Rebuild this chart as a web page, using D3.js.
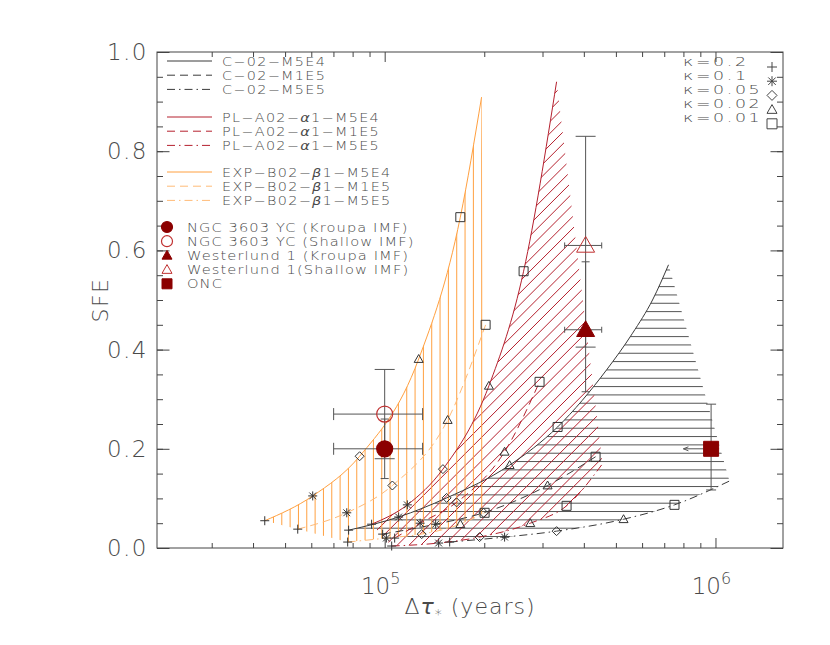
<!DOCTYPE html>
<html>
<head>
<meta charset="utf-8">
<script src="https://cdn.jsdelivr.net/npm/d3@7"></script>
<style>
  body { margin: 0; background: #fff; }
  svg text { font-family: 'DejaVu Sans', sans-serif; font-weight: 200; fill: #4a4a4a; }
</style>
</head>
<body>
<svg width="830" height="645"></svg>
<script>
// marker codes: p = + (kappa 0.2), x = asterisk (0.1), d = diamond (0.05), t = triangle (0.02), s = square (0.01)
var kappaLabels = ['κ=0.2', 'κ=0.1', 'κ=0.05', 'κ=0.02', 'κ=0.01']
var kappaMarks = ['p', 'x', 'd', 't', 's']

// C-02 models (black)
var cM5E4Tau = [77800, 110200, 153900, 238600, 333200, 468500, 561400, 645200, 721100]
var cM5E4Sfe = [0.036, 0.0625, 0.101, 0.167, 0.244, 0.359, 0.433, 0.5, 0.571]
var cM5E4Mark = ['p', 'x', 'd', 't', 's', '', '', '', '']
var cM1E5Tau = [98600, 142600, 199100, 310800, 434100]
var cM1E5Sfe = [0.028, 0.048, 0.071, 0.126, 0.184]
var cM5E5Tau = [157200, 230400, 330900, 527400, 751800, 1102000]
var cM5E5Sfe = [0.012, 0.022, 0.034, 0.058, 0.087, 0.135]

// PL-A02-alpha1 models (red)
var plM5E4Tau = [91300, 117100, 150000, 206600, 263000, 330900]
var plM5E4Sfe = [0.048, 0.087, 0.159, 0.327, 0.558, 0.94]
var plM1E5Tau = [107200, 128000, 165000, 230400, 293900]
var plM1E5Sfe = [0.02, 0.05, 0.092, 0.194, 0.335]
var plM5E5Tau = [105000, 145600, 193600, 275500, 354700, 455700]
var plM5E5Sfe = [0.004, 0.010, 0.022, 0.050, 0.085, 0.17]

// EXP-B02-beta1 models (orange)
var expM5E4Tau = [43400, 60600, 84000, 126700, 169300, 196300]
var expM5E4Sfe = [0.055, 0.105, 0.185, 0.381, 0.667, 0.909]
var expM1E5Tau = [54600, 76800, 105500, 155000, 201900]
var expM1E5Sfe = [0.038, 0.071, 0.126, 0.258, 0.45]
var expM5E5Tau = [77300, 101200, 129400, 169300, 200500]
var expM5E5Sfe = [0.012, 0.020, 0.028, 0.048, 0.071]

var stdMark = ['p', 'x', 'd', 't', 's', '']

// observed clusters
var obsNames = ['NGC 3603 YC (Kroupa IMF)', 'NGC 3603 YC (Shallow IMF)', 'Westerlund 1 (Kroupa IMF)', 'Westerlund 1(Shallow IMF)', 'ONC']
var obsSym = ['o', 'o', 't', 't', 's']
var obsFilled = [true, false, true, false, true]
var obsTau = [1e5, 1e5, 4.05e5, 4.05e5, 9.7e5]
var obsTauLo = [70100, 70100, 350000, 350000, 800000]
var obsTauHi = [130200, 130200, 453000, 453000, 970000]
var obsSfe = [0.2, 0.27, 0.44, 0.61, 0.2]
var obsSfeLo = [0.14, 0.18, 0.315, 0.405, 0.117]
var obsSfeHi = [0.26, 0.36, 0.577, 0.83, 0.29]

var yMajor = [0, 0.2, 0.4, 0.6, 0.8, 1.0]
var yMinor = d3.range(0, 1.0001, 0.05)
var xMajor = [1e5, 1e6]

var black = '#3a3a3a'
var red = '#b5202e'
var orange = '#ffa040'
var orangeLight = '#ffbb78'
var darkRed = '#8b0000'
var axisColor = '#444'

var svg = d3.select('svg')
var x = d3.scaleLog().domain([2.05e4, 1.6e6]).range([157, 783])
var y = d3.scaleLinear().domain([0, 1]).range([548, 52])

function pts (tau, sfe) {
  return tau.map(function (t, i) { return [x(t), y(sfe[i])] })
}

var line = d3.line().curve(d3.curveMonotoneX)

function regionPath (top, bottom) {
  return line(top) + line(bottom.slice().reverse()).replace(/^M/, 'L') + 'Z'
}

var clipCount = 0
function hatch (node, d, kind, color) {
  var id = 'hclip' + (clipCount++)
  svg.append('clipPath').attr('id', id).append('path').attr('d', d)
  var step = 8.33
  var p = ''
  var k
  if (kind === 'v') {
    for (k = 0; k < 100; k++) p += 'M' + (6.9 + k * step) + ',0V645'
  } else if (kind === 'h') {
    for (k = 0; k < 80; k++) p += 'M0,' + (3.4 + k * step) + 'H830'
  } else {
    var s = step * Math.SQRT2
    for (k = 0; k < 130; k++) {
      var c = k * s
      p += 'M0,' + c + 'L' + c + ',0'
    }
  }
  node.append('path')
    .attr('d', p)
    .attr('clip-path', 'url(#' + id + ')')
    .attr('fill', 'none')
    .attr('stroke', color)
    .attr('stroke-width', 1)
}

function marker (node, type, cx, cy, r, stroke, fill) {
  var d
  if (type === 'p') {
    d = 'M' + (cx - r) + ',' + cy + 'H' + (cx + r) + 'M' + cx + ',' + (cy - r) + 'V' + (cy + r)
  } else if (type === 'x') {
    var a = r * 0.75
    d = 'M' + (cx - r) + ',' + cy + 'H' + (cx + r) + 'M' + cx + ',' + (cy - r) + 'V' + (cy + r) +
      'M' + (cx - a) + ',' + (cy - a) + 'L' + (cx + a) + ',' + (cy + a) +
      'M' + (cx - a) + ',' + (cy + a) + 'L' + (cx + a) + ',' + (cy - a)
  } else if (type === 'd') {
    d = 'M' + cx + ',' + (cy - r) + 'L' + (cx + r) + ',' + cy + 'L' + cx + ',' + (cy + r) + 'L' + (cx - r) + ',' + cy + 'Z'
  } else if (type === 't') {
    d = 'M' + cx + ',' + (cy - r) + 'L' + (cx + r) + ',' + (cy + r * 0.75) + 'L' + (cx - r) + ',' + (cy + r * 0.75) + 'Z'
  } else if (type === 's') {
    d = 'M' + (cx - r) + ',' + (cy - r) + 'H' + (cx + r) + 'V' + (cy + r) + 'H' + (cx - r) + 'Z'
  }
  if (type === 'o') {
    return node.append('circle').attr('cx', cx).attr('cy', cy).attr('r', r)
      .attr('fill', fill || 'none').attr('stroke', stroke).attr('stroke-width', 1.2)
  }
  return node.append('path').attr('d', d)
    .attr('fill', fill || 'none').attr('stroke', stroke).attr('stroke-width', 1)
}

var dash = '8,5'
var dashDot = '8,4,1.5,4'

var models = [
  { tau: cM5E4Tau, sfe: cM5E4Sfe, mark: cM5E4Mark, color: black, dash: null },
  { tau: cM1E5Tau, sfe: cM1E5Sfe, mark: stdMark, color: black, dash: dash },
  { tau: cM5E5Tau, sfe: cM5E5Sfe, mark: stdMark, color: black, dash: dashDot },
  { tau: plM5E4Tau, sfe: plM5E4Sfe, mark: stdMark, color: red, dash: null },
  { tau: plM1E5Tau, sfe: plM1E5Sfe, mark: stdMark, color: red, dash: dash },
  { tau: plM5E5Tau, sfe: plM5E5Sfe, mark: stdMark, color: red, dash: dashDot },
  { tau: expM5E4Tau, sfe: expM5E4Sfe, mark: stdMark, color: orange, dash: null },
  { tau: expM1E5Tau, sfe: expM1E5Sfe, mark: stdMark, color: orangeLight, dash: dash },
  { tau: expM5E5Tau, sfe: expM5E5Sfe, mark: stdMark, color: orangeLight, dash: dashDot }
]

// hatched regions between the M5E4 and M5E5 runs
var hatchG = svg.append('g')
hatch(hatchG, regionPath(pts(cM5E4Tau, cM5E4Sfe), pts(cM5E5Tau, cM5E5Sfe)), 'h', '#555')
hatch(hatchG, regionPath(pts(plM5E4Tau, plM5E4Sfe), pts(plM5E5Tau, plM5E5Sfe)), 'd', red)
hatch(hatchG, regionPath(pts(expM5E4Tau, expM5E4Sfe), pts(expM5E5Tau, expM5E5Sfe)), 'v', orange)

var curveG = svg.append('g')
models.forEach(function (m) {
  curveG.append('path')
    .attr('d', line(pts(m.tau, m.sfe)))
    .attr('fill', 'none')
    .attr('stroke', m.color)
    .attr('stroke-width', 1)
    .attr('stroke-dasharray', m.dash)
})

var markG = svg.append('g')
models.forEach(function (m) {
  pts(m.tau, m.sfe).forEach(function (p, i) {
    if (m.mark[i]) marker(markG, m.mark[i], p[0], p[1], 4.5, '#333')
  })
})

// observations with error bars
var obsG = svg.append('g')
var errColor = '#555'
function hbar (x0, x1, yy, cap) {
  obsG.append('path')
    .attr('d', 'M' + x0 + ',' + yy + 'H' + x1 + 'M' + x0 + ',' + (yy - cap) + 'V' + (yy + cap) + 'M' + x1 + ',' + (yy - cap) + 'V' + (yy + cap))
    .attr('stroke', errColor).attr('fill', 'none')
}
function vbar (xx, y0, y1, cap) {
  obsG.append('path')
    .attr('d', 'M' + xx + ',' + y0 + 'V' + y1 + 'M' + (xx - cap) + ',' + y0 + 'H' + (xx + cap) + 'M' + (xx - cap) + ',' + y1 + 'H' + (xx + cap))
    .attr('stroke', errColor).attr('fill', 'none')
}
var capV = [4, 10, 4, 10, 5]
var capH = [6, 6, 3, 3, 0]
obsNames.forEach(function (n, i) {
  var cx = x(obsTau[i])
  vbar(cx, y(obsSfeHi[i]), y(obsSfeLo[i]), capV[i])
  if (i < 4) {
    hbar(x(obsTauLo[i]), x(obsTauHi[i]), y(obsSfe[i]), capH[i])
  } else {
    var ax = x(obsTauLo[i])
    obsG.append('path')
      .attr('d', 'M' + ax + ',' + y(obsSfe[i]) + 'H' + (cx + 8) + 'M' + (ax + 5) + ',' + (y(obsSfe[i]) - 2) + 'L' + ax + ',' + y(obsSfe[i]) + 'L' + (ax + 5) + ',' + (y(obsSfe[i]) + 2))
      .attr('stroke', errColor).attr('fill', 'none')
  }
})
obsNames.forEach(function (n, i) {
  var cx = x(obsTau[i])
  var cy = y(obsSfe[i])
  var r = obsSym[i] === 'o' ? 8 : (obsSym[i] === 't' ? 9 : 7.5)
  marker(obsG, obsSym[i], cx, cy, r, obsFilled[i] ? darkRed : '#c03030', obsFilled[i] ? darkRed : 'none')
})

// axes: frame, inward ticks on all four sides
var axisG = svg.append('g').attr('color', axisColor)
function tickAxis (gen, tx, ty, values, len) {
  axisG.append('g')
    .attr('transform', 'translate(' + tx + ',' + ty + ')')
    .call(gen.tickValues(values).tickSize(len).tickSizeOuter(0).tickFormat(''))
    .call(function (g) { g.select('.domain').remove() })
}
var xMinor = x.ticks().filter(function (t) { return xMajor.indexOf(t) < 0 })
tickAxis(d3.axisBottom(x), 0, 548, xMajor, -10)
tickAxis(d3.axisBottom(x), 0, 548, xMinor, -5)
tickAxis(d3.axisTop(x), 0, 52, xMajor, -10)
tickAxis(d3.axisTop(x), 0, 52, xMinor, -5)
tickAxis(d3.axisLeft(y), 157, 0, yMajor, -12.5)
tickAxis(d3.axisLeft(y), 157, 0, yMinor, -6)
tickAxis(d3.axisRight(y), 783, 0, yMajor, -12.5)
tickAxis(d3.axisRight(y), 783, 0, yMinor, -6)
axisG.append('rect')
  .attr('x', 157).attr('y', 52).attr('width', 626).attr('height', 496)
  .attr('fill', 'none').attr('stroke', axisColor)

var labelG = svg.append('g')
yMajor.forEach(function (v) {
  labelG.append('text')
    .attr('x', 148).attr('y', y(v) + 8)
    .attr('text-anchor', 'end')
    .attr('font-size', 23)
    .attr('letter-spacing', 1.5)
    .text(v.toFixed(1))
})
xMajor.forEach(function (v) {
  var t = labelG.append('text')
    .attr('x', x(v) - 4).attr('y', y(0) + 46)
    .attr('text-anchor', 'middle')
    .attr('font-size', 23)
  t.append('tspan').text('10')
  t.append('tspan').attr('dy', -10).attr('font-size', 16).text(Math.round(Math.log10(v)))
})
labelG.append('text')
  .attr('transform', 'translate(108,300) rotate(-90)')
  .attr('text-anchor', 'middle')
  .attr('font-size', 22)
  .attr('letter-spacing', 1.5)
  .text('SFE')
var xl = labelG.append('text')
  .attr('x', 470).attr('y', 614)
  .attr('text-anchor', 'middle')
  .attr('font-size', 22)
  .attr('letter-spacing', 1)
xl.append('tspan').text('Δ')
xl.append('tspan').attr('font-style', 'italic').text('τ')
xl.append('tspan').attr('dy', 5).attr('font-size', 14).text('*')
xl.append('tspan').attr('dy', -5).text(' (years)')

// legends: small wide text (Hershey-like), stretched horizontally
function legendText (node, tx, ty, sx, spacing) {
  return node.append('text')
    .attr('transform', 'translate(' + tx + ',' + ty + ') scale(' + sx + ',1)')
    .attr('font-size', 12)
    .attr('letter-spacing', spacing)
}

var legend = svg.append('g')
var legendRows = [
  { y: 61, color: black, dash: null, parts: ['C−02−M5E4'] },
  { y: 75.2, color: black, dash: dash, parts: ['C−02−M1E5'] },
  { y: 89.4, color: black, dash: dashDot, parts: ['C−02−M5E5'] },
  { y: 117, color: red, dash: null, parts: ['PL−A02−', 'α', '1−M5E4'] },
  { y: 131.2, color: red, dash: dash, parts: ['PL−A02−', 'α', '1−M1E5'] },
  { y: 145.4, color: red, dash: dashDot, parts: ['PL−A02−', 'α', '1−M5E5'] },
  { y: 172, color: orange, dash: null, parts: ['EXP−B02−', 'β', '1−M5E4'] },
  { y: 186.2, color: orangeLight, dash: dash, parts: ['EXP−B02−', 'β', '1−M1E5'] },
  { y: 200.4, color: orangeLight, dash: dashDot, parts: ['EXP−B02−', 'β', '1−M5E5'] }
]
legendRows.forEach(function (r) {
  legend.append('line')
    .attr('x1', 167).attr('x2', 212).attr('y1', r.y).attr('y2', r.y)
    .attr('stroke', r.color).attr('stroke-dasharray', r.dash)
  var t = legendText(legend, 222, r.y + 4.5, 1.2, 1.1)
  r.parts.forEach(function (s, j) {
    var sp = t.append('tspan').text(s)
    if (j === 1) sp.attr('font-style', 'italic').attr('font-weight', 400)
  })
})

obsNames.forEach(function (n, i) {
  var yy = 227 + i * 14.2
  var r = obsSym[i] === 'o' ? 5.5 : 5
  marker(legend, obsSym[i], 167, yy, r, obsFilled[i] ? darkRed : '#c03030', obsFilled[i] ? darkRed : 'none')
  legendText(legend, 187, yy + 4.5, 1.22, 0.9).text(n)
})

kappaLabels.forEach(function (k, i) {
  var yy = 61 + i * 14.2
  legendText(legend, 683, yy + 4.5, 1.45, 1.8).text(k)
  marker(legend, kappaMarks[i], 772, yy + 6, 5, '#444')
})
</script>
</body>
</html>
